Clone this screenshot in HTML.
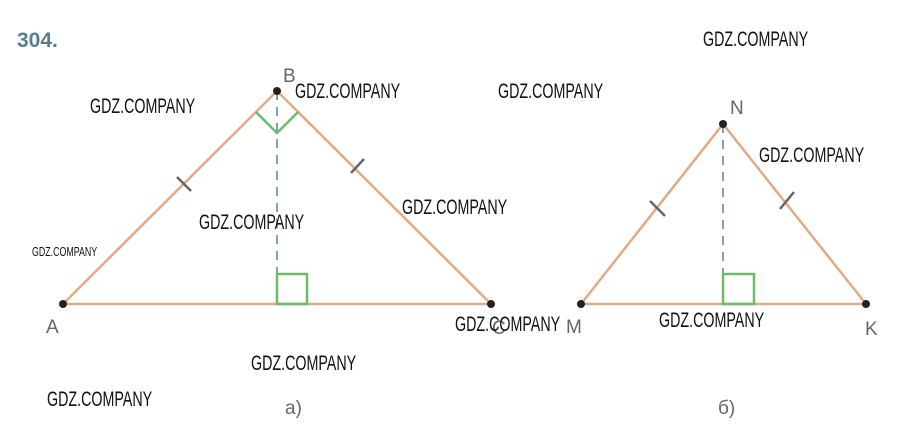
<!DOCTYPE html>
<html><head><meta charset="utf-8"><style>
body{margin:0;background:#fff;width:908px;height:428px;overflow:hidden}
svg{display:block}
.w{font-family:"Liberation Sans",sans-serif;font-size:21px;fill:#111}
.l{font-family:"Liberation Sans",sans-serif;font-size:19px;fill:#666}
</style></head><body>
<svg width="908" height="428" viewBox="0 0 908 428">
<text x="17" y="47" font-family="Liberation Sans,sans-serif" font-weight="bold" font-size="21" fill="#5a7d8e">304.</text>
<polyline points="63,304 277,91 491,304 63,304" fill="none" stroke="#e0aa86" stroke-width="2.5"/>
<line x1="277" y1="91" x2="277" y2="304" stroke="#7f9cc4" stroke-width="2" stroke-dasharray="9,7"/>
<polyline points="256,112 277,133 298,112" fill="none" stroke="#6cbb6c" stroke-width="2.5"/>
<rect x="277" y="274" width="30" height="30" fill="none" stroke="#6cbb6c" stroke-width="2.5"/>
<line x1="177" y1="177" x2="191" y2="191" stroke="#666" stroke-width="2.5"/>
<line x1="351" y1="173" x2="364" y2="159" stroke="#666" stroke-width="2.5"/>
<circle cx="63" cy="304" r="4" fill="#222"/><circle cx="277" cy="91" r="4" fill="#222"/><circle cx="491" cy="304" r="4" fill="#222"/>
<text class="l" x="46" y="333">A</text><text class="l" x="283" y="82">B</text><text class="l" x="492" y="334">C</text>
<polyline points="581,304 723,124 866,304 581,304" fill="none" stroke="#e0aa86" stroke-width="2.5"/>
<line x1="723" y1="124" x2="723" y2="304" stroke="#7f9cc4" stroke-width="2" stroke-dasharray="9,7"/>
<rect x="723" y="274" width="31" height="30" fill="none" stroke="#6cbb6c" stroke-width="2.5"/>
<line x1="650" y1="201" x2="665" y2="216" stroke="#666" stroke-width="2.5"/>
<line x1="780" y1="209" x2="794" y2="192" stroke="#666" stroke-width="2.5"/>
<circle cx="581" cy="304" r="4" fill="#222"/><circle cx="723" cy="124" r="4" fill="#222"/><circle cx="866" cy="304" r="4" fill="#222"/>
<text class="l" x="566" y="333">M</text><text class="l" x="730" y="114">N</text><text class="l" x="865" y="335">K</text>
<text class="l" x="285" y="414">а)</text><text class="l" x="718" y="414">б)</text>
<g class="w">
<text transform="translate(90,113) scale(0.68,1)">GDZ.COMPANY</text>
<text transform="translate(295,98) scale(0.68,1)">GDZ.COMPANY</text>
<text transform="translate(498,98) scale(0.68,1)">GDZ.COMPANY</text>
<text transform="translate(703,46) scale(0.68,1)">GDZ.COMPANY</text>
<text transform="translate(759,162) scale(0.68,1)">GDZ.COMPANY</text>
<text transform="translate(402,214) scale(0.68,1)">GDZ.COMPANY</text>
<text transform="translate(199,229) scale(0.68,1)">GDZ.COMPANY</text>
<text transform="translate(455,331) scale(0.68,1)">GDZ.COMPANY</text>
<text transform="translate(659,327) scale(0.68,1)">GDZ.COMPANY</text>
<text transform="translate(251,370) scale(0.68,1)">GDZ.COMPANY</text>
<text transform="translate(47,406) scale(0.68,1)">GDZ.COMPANY</text>
<text transform="translate(32,256) scale(0.68,1)" font-size="13">GDZ.COMPANY</text>
</g>
</svg>
</body></html>
